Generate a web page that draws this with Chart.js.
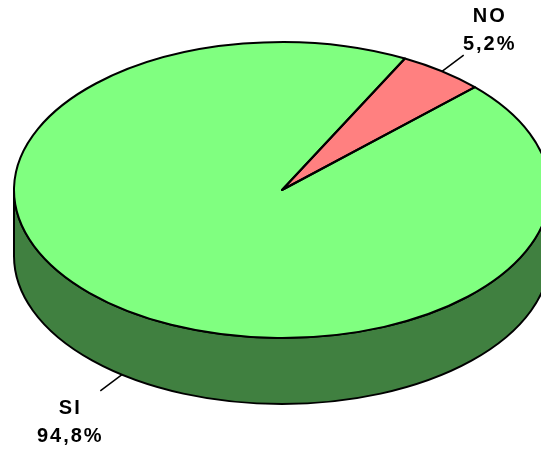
<!DOCTYPE html>
<html>
<head>
<meta charset="utf-8">
<script src="https://cdn.jsdelivr.net/npm/chart.js@4/dist/chart.umd.min.js"></script>
<style>
  html, body { margin: 0; padding: 0; background: #ffffff; }
  canvas { display: block; }
</style>
</head>
<body>
<canvas id="c" width="541" height="450"></canvas>
<script>
// ---- data ----
const categories = ['NO', 'SI'];
const values = [5.2, 94.8];
const valueLabels = ['5,2%', '94,8%'];
const topColors = ['#FF8080', '#80FF80'];
const sideColors = ['#804040', '#408040'];

// ---- 3D projection (layout / style) ----
const GEO = { cx: 282, cy: 190, rx: 268, ry: 148, depth: 66 };

function applyProjection(ctx, arc) {
  ctx.translate(GEO.cx, GEO.cy);
  ctx.scale(GEO.rx / arc.outerRadius, GEO.ry / arc.outerRadius);
  ctx.translate(-arc.x, -arc.y);
}

const pie3d = {
  id: 'pie3d',
  beforeDatasetsDraw(chart) {
    const ctx = chart.ctx;
    const meta = chart.getDatasetMeta(0);
    // side walls (front half only)
    meta.data.forEach((arc, i) => {
      const a0 = arc.startAngle, a1 = arc.endAngle;
      [-2 * Math.PI, 0, 2 * Math.PI].forEach(k => {
        const lo = Math.max(a0, k), hi = Math.min(a1, k + Math.PI);
        if (lo < hi) {
          ctx.save();
          ctx.beginPath();
          ctx.ellipse(GEO.cx, GEO.cy, GEO.rx, GEO.ry, 0, lo, hi, false);
          ctx.ellipse(GEO.cx, GEO.cy + GEO.depth, GEO.rx, GEO.ry, 0, hi, lo, true);
          ctx.closePath();
          ctx.fillStyle = sideColors[i];
          ctx.fill();
          ctx.lineWidth = 2;
          ctx.lineJoin = 'round';
          ctx.strokeStyle = '#000000';
          ctx.stroke();
          ctx.restore();
        }
      });
    });
    ctx.save();
    applyProjection(ctx, meta.data[0]);
  },
  afterDatasetsDraw(chart) {
    const ctx = chart.ctx;
    ctx.restore();
    const meta = chart.getDatasetMeta(0);
    // slice outlines
    meta.data.forEach(arc => {
      ctx.save();
      ctx.beginPath();
      ctx.save();
      applyProjection(ctx, arc);
      ctx.moveTo(arc.x, arc.y);
      ctx.arc(arc.x, arc.y, arc.outerRadius, arc.startAngle, arc.endAngle);
      ctx.closePath();
      ctx.restore();
      ctx.lineWidth = 2;
      ctx.lineJoin = 'round';
      ctx.strokeStyle = '#000000';
      ctx.stroke();
      ctx.restore();
    });
    // labels with leader lines
    meta.data.forEach((arc, i) => {
      const mid = (arc.startAngle + arc.endAngle) / 2;
      const c = Math.cos(mid), s = Math.sin(mid);
      const ax = GEO.cx + GEO.rx * c;
      const ay = GEO.cy + GEO.ry * s + (s > 0 ? GEO.depth : 0);
      const dx = GEO.rx * c, dy = GEO.ry * s;
      const len = Math.hypot(dx, dy);
      const ex = ax + dx / len * 27, ey = ay + dy / len * 27;
      ctx.save();
      ctx.beginPath();
      ctx.moveTo(ax, ay);
      ctx.lineTo(ex, ey);
      ctx.lineWidth = 1.5;
      ctx.strokeStyle = '#000000';
      ctx.stroke();
      const bx = ex + (c > 0 ? 25 : -31);
      const by = ey + (s > 0 ? 32 : -25);
      ctx.fillStyle = '#000000';
      ctx.font = 'bold 20px "Liberation Sans", Arial, sans-serif';
      ctx.textAlign = 'center';
      ctx.textBaseline = 'middle';
      try { ctx.letterSpacing = '2px'; } catch (e) {}
      ctx.fillText(categories[i], bx + 1, by - 14);
      ctx.fillText(valueLabels[i], bx + 1, by + 14);
      ctx.restore();
    });
  }
};

new Chart(document.getElementById('c'), {
  type: 'pie',
  data: {
    labels: categories,
    datasets: [{
      data: values,
      backgroundColor: topColors,
      borderWidth: 0
    }]
  },
  options: {
    responsive: false,
    animation: false,
    events: [],
    rotation: 27.3,
    layout: { padding: 0 },
    plugins: {
      legend: { display: false },
      tooltip: { enabled: false }
    }
  },
  plugins: [pie3d]
});
</script>
</body>
</html>
